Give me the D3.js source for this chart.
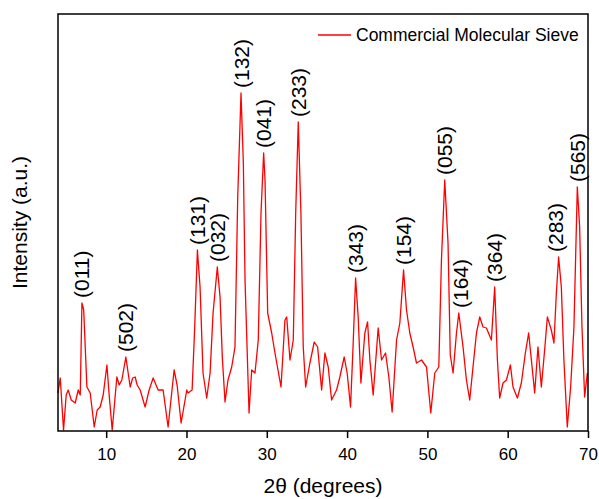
<!DOCTYPE html>
<html>
<head>
<meta charset="utf-8">
<script src="https://cdn.jsdelivr.net/npm/d3@7"></script>
<style>
    body { margin: 0; background: #fff; }
    text { font-family: "Liberation Sans", Arial, sans-serif; fill: #000; }
</style>
</head>
<body>
<svg id="chart" width="599" height="499"></svg>
<script>
// 2theta (degrees)
const twoTheta = [
    4.0, 4.28, 4.69, 5.02, 5.27, 5.65, 6.14, 6.52, 6.77, 6.98, 7.20, 7.60, 8.01, 8.51, 8.88, 9.25, 9.63,
    10.09, 10.37, 10.75, 11.33, 11.62, 11.95, 12.45, 12.99, 13.30, 13.61, 13.86, 14.23, 14.85, 15.35,
    15.85, 16.47, 17.09, 17.71, 18.46, 18.83, 19.33, 20.04, 20.20, 20.70, 21.01, 21.36, 21.69, 22.06,
    22.52, 22.94, 23.31, 23.84, 24.18, 24.46, 24.80, 25.17, 25.63, 26.04, 26.38, 26.79, 27.08, 27.29,
    27.79, 28.12, 28.53, 28.94, 29.28, 29.61, 29.78, 30.11, 30.61, 31.02, 31.77, 32.26, 32.48, 32.89,
    33.30, 33.60, 33.92, 34.25, 34.54, 34.84, 35.37, 35.91, 36.33, 36.83, 37.24, 37.65, 38.07, 38.69,
    39.10, 39.64, 40.01, 40.43, 40.76, 41.06, 41.38, 41.72, 42.21, 42.55, 42.84, 43.25, 43.87, 44.29,
    44.79, 45.20, 45.61, 46.16, 46.57, 47.03, 47.40, 47.81, 48.22, 48.64, 49.27, 49.89, 50.42, 50.92,
    51.42, 51.75, 52.16, 52.57, 52.85, 53.20, 53.62, 53.91, 54.44, 54.86, 55.27, 55.68, 56.11, 56.52,
    56.93, 57.35, 57.97, 58.38, 58.72, 59.00, 59.42, 59.84, 60.34, 60.66, 61.21, 61.70, 62.20, 62.61,
    62.95, 63.36, 63.77, 64.19, 64.60, 64.94, 65.43, 65.76, 66.06, 66.34, 66.68, 67.00, 67.42, 67.84,
    68.25, 68.67, 68.96, 69.25, 69.58, 69.92
]

// intensity (a.u.)
const intensity = [
    38, 53, 1, 36, 41, 31, 28, 41, 36, 128, 121, 44, 38, 4, 21, 24, 36,
    66, 36, 1, 54, 46, 51, 74, 44, 53, 54, 46, 41, 24, 41,
    53, 41, 41, 4, 61, 46, 8, 41, 38, 41, 101, 181, 144, 58,
    33, 58, 118, 164, 134, 74, 29, 51, 64, 84, 234, 338, 268, 151,
    18, 61, 58, 91, 218, 278, 251, 118, 98, 78, 44, 111, 114, 71,
    91, 218, 309, 218, 84, 44, 68, 89, 84, 41, 78, 64, 31, 41,
    54, 74, 58, 24, 88, 153, 114, 48, 98, 109, 71, 36, 103, 71,
    78, 54, 19, 91, 108, 161, 121, 98, 84, 68, 71, 64, 18, 58,
    64, 171, 251, 188, 76, 58, 98, 118, 84, 51, 31, 64, 98, 114,
    104, 103, 91, 144, 71, 33, 48, 51, 66, 44, 33, 48, 78, 98,
    71, 38, 84, 44, 81, 114, 101, 88, 138, 174, 144, 71, 4, 44,
    104, 244, 204, 104, 34, 58
]

const peakLabels = ['(011)', '(502)', '(131)', '(032)', '(132)', '(041)', '(233)',
    '(343)', '(154)', '(055)', '(164)', '(364)', '(283)', '(565)']
const peakPositions = [6.98, 12.45, 21.36, 23.84, 26.79, 29.61, 33.92,
    41.06, 47.03, 52.16, 54.1, 58.38, 66.0, 68.67]

const xTicks = [10, 20, 30, 40, 50, 60, 70]
const seriesName = 'Commercial Molecular Sieve'

const svg = d3.select('#chart')
const margin = {top: 14, right: 11, bottom: 68, left: 58}
const width = 599 - margin.left - margin.right
const height = 499 - margin.top - margin.bottom

const x = d3.scaleLinear().domain([4, 70]).range([0, width])
const y = d3.scaleLinear().domain([0, 417]).range([height, 0])

const g = svg.append('g')
    .attr('transform', `translate(${margin.left},${margin.top})`)

const data = twoTheta.map((t, i) => ({t: t, v: intensity[i]}))

g.append('path')
    .datum(data)
    .attr('fill', 'none')
    .attr('stroke', '#ff0000')
    .attr('stroke-width', 1.3)
    .attr('stroke-linejoin', 'round')
    .attr('d', d3.line().x(d => x(d.t)).y(d => y(d.v)))

// frame
g.append('rect')
    .attr('width', width)
    .attr('height', height)
    .attr('fill', 'none')
    .attr('stroke', '#000')
    .attr('stroke-width', 1.5)

const xAxis = g.append('g')
    .attr('transform', `translate(0,${height})`)
    .call(d3.axisBottom(x).tickValues(xTicks).tickSize(7).tickPadding(10).tickSizeOuter(0))

xAxis.select('.domain').remove()
xAxis.selectAll('line').attr('stroke-width', 1.5)
xAxis.selectAll('text')
    .style('font-family', '"Liberation Sans", Arial, sans-serif')
    .style('font-size', '17px')

// peak labels, placed just above the highest point near each position
peakPositions.forEach((p, i) => {
    const near = data.filter(d => Math.abs(d.t - p) < 0.45)
    const top = d3.max(near, d => d.v)
    g.append('text')
        .attr('transform', `translate(${x(p)},${y(top) - 5}) rotate(-90)`)
        .attr('dy', '0.36em')
        .style('font-size', '21px')
        .text(peakLabels[i])
})

// legend
const legend = g.append('g')
    .attr('transform', `translate(${width - 270},${21})`)
legend.append('line')
    .attr('x1', 0).attr('x2', 33)
    .attr('stroke', '#ff0000')
    .attr('stroke-width', 1.3)
legend.append('text')
    .attr('x', 38)
    .attr('dy', '0.36em')
    .style('font-size', '17.5px')
    .text(seriesName)

// axis titles
svg.append('text')
    .attr('x', margin.left + width / 2)
    .attr('y', 493)
    .attr('text-anchor', 'middle')
    .style('font-size', '21px')
    .text('2θ (degrees)')

svg.append('text')
    .attr('transform', `translate(27,${margin.top + height / 2}) rotate(-90)`)
    .attr('text-anchor', 'middle')
    .style('font-size', '21px')
    .text('Intensity (a.u.)')
</script>
</body>
</html>
